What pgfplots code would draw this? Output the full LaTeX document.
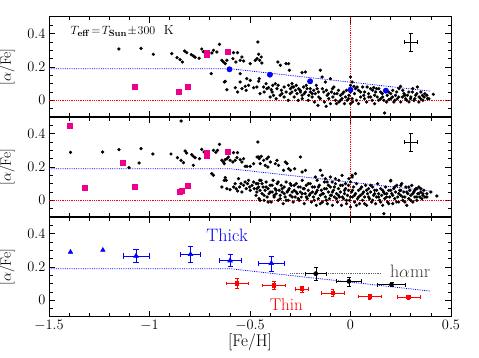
\documentclass[border=0pt]{standalone}
\usepackage{pgfplots}
\pgfplotsset{compat=1.18}
\begin{document}
\begin{tikzpicture}
\pgfplotsset{
  panel/.style={
    scale only axis, width=402pt, height=100pt,
    xmin=-1.5, xmax=0.5, ymin=-0.1, ymax=0.5,
    xtick={-1.5,-1,-0.5,0,0.5},
    minor xtick={-1.4,-1.3,-1.2,-1.1,-0.9,-0.8,-0.7,-0.6,-0.4,-0.3,-0.2,-0.1,0.1,0.2,0.3,0.4},
    ytick={0,0.2,0.4},
    minor ytick={-0.05,0.05,0.1,0.15,0.25,0.3,0.35,0.45},
    major tick length=6pt, minor tick length=3.5pt,
    tick style={black, line width=0.8pt},
    axis line style={line width=1pt},
    tick label style={font=\fontsize{14}{16}\selectfont},
    ylabel={[$\alpha$/Fe]},
    ylabel style={font=\fontsize{15}{17}\selectfont, at={(axis description cs:-0.104,0.5)}, anchor=center},
  },
  dots/.style={only marks, mark=*, mark size=1.45pt, black},
  sq/.style={only marks, mark=square*, mark size=2.5pt, magenta},
  redline/.style={red, densely dotted, line width=0.8pt},
  fitline/.style={blue, densely dotted, line width=0.8pt},
  cross/.style={black, no markers, line width=0.7pt, error bars/.cd, x dir=both, x explicit, y dir=both, y explicit},
}
% ---------------- top panel
\begin{axis}[panel, at={(0,200pt)}, xticklabels={}]
\addplot[redline] coordinates {(-1.5,0) (0.5,0)};
\addplot[redline] coordinates {(0,-0.1) (0,0.5)};
\addplot[fitline] coordinates {(-1.5,0.19) (-0.6,0.19) (0.4,0.055)};
\addplot[dots] coordinates {
(-1.152,0.308) (-1.042,0.312) (-0.981,0.276) (-0.889,0.280) (-0.863,0.256) (-0.848,0.244)
(-0.836,0.230) (-0.825,0.296) (-0.815,0.286) (-0.792,0.274) (-0.782,0.266) (-0.773,0.258)
(-0.753,0.252) (-0.740,0.308) (-0.732,0.292) (-0.718,0.284) (-0.690,0.284) (-0.682,0.300)
(-0.665,0.290) (-0.652,0.336) (-0.693,0.160) (-0.640,0.240) (-0.632,0.230) (-0.623,0.220)
(-0.615,0.240) (-0.582,0.286) (-0.562,0.286) (-0.585,0.250) (-0.570,0.230) (-0.549,0.240)
(-0.532,0.236) (-0.540,0.260) (-0.623,0.114) (-0.615,0.064) (-0.628,0.110) (-0.573,0.076)
(-0.562,0.050) (-0.549,0.110) (-0.540,0.070) (-0.524,0.084) (-0.519,0.060) (-0.507,0.090)
(-0.499,0.120) (-0.482,0.076) (-0.466,0.080) (-0.457,0.114) (-0.452,0.240) (-0.461,0.350)
(-0.474,0.240) (-0.549,0.160) (-0.516,0.130) (-0.499,0.220) (-0.457,0.276) (-0.444,0.260)
(-0.465,0.250) (-0.441,0.224) (-0.454,0.130) (-0.432,0.080) (-0.416,0.070) (-0.408,0.076)
(-0.394,0.064) (-0.387,0.090) (-0.383,0.030) (-0.374,0.100) (-0.366,0.070) (-0.361,0.230)
(-0.349,0.210) (-0.344,0.060) (-0.341,0.040) (-0.321,0.220) (-0.308,0.220) (-0.304,0.180)
(-0.308,0.090) (-0.299,0.070) (-0.291,0.050) (-0.291,0.100) (-0.283,0.080) (-0.274,0.060)
(-0.266,0.040) (-0.258,0.070) (-0.249,0.050) (-0.241,0.166) (-0.241,0.030) (-0.233,0.080)
(-0.224,0.170) (-0.224,0.050) (-0.216,0.070) (-0.208,0.030) (-0.200,0.050) (-0.191,0.020)
(-0.183,0.060) (-0.175,0.040) (-0.166,0.070) (-0.162,-0.030) (-0.158,0.020) (-0.150,0.180)
(-0.141,0.140) (-0.133,0.050) (-0.125,0.110) (-0.121,-0.036) (-0.116,0.030) (-0.108,0.010)
(-0.100,0.130) (-0.095,0.050) (-0.088,0.020) (-0.083,0.080) (-0.075,0.000) (-0.067,0.040)
(-0.058,-0.010) (-0.050,0.030) (-0.042,0.010) (-0.033,0.050) (-0.025,0.020) (-0.017,0.000)
(-0.008,0.030) (0.000,0.140) (0.000,-0.020) (0.008,0.010)
(0.008,0.110) (0.017,0.084) (0.025,0.070) (0.033,0.080) (0.050,0.050) (0.066,0.030)
(0.083,0.080) (0.091,0.020) (0.100,0.070) (0.108,0.000) (0.116,0.076) (0.125,0.050)
(0.133,0.020) (0.141,0.070) (0.150,0.010) (0.158,0.040) (0.166,0.000) (0.170,-0.076)
(0.183,0.030) (0.191,0.004) (0.200,0.040) (0.208,0.020) (0.216,-0.010) (0.224,0.030)
(0.233,0.010) (0.241,0.070) (0.249,0.084) (0.258,0.020) (0.266,0.040) (0.274,0.010)
(0.283,0.030) (0.291,-0.010) (0.299,0.010) (0.308,0.050) (0.316,0.000) (0.324,0.030)
(0.333,0.080) (0.341,0.020) (0.349,0.010) (0.358,0.030) (0.366,0.020) (0.383,0.010)
(0.412,0.036)
(-0.45,0.04) (-0.43,0.05) (-0.42,0.10) (-0.40,0.02) (-0.39,0.05) (-0.37,0.01) (-0.36,0.09)
(-0.35,0.03) (-0.33,0.08) (-0.33,0.02) (-0.32,0.05) (-0.31,0.00) (-0.30,0.04) (-0.29,0.08)
(-0.28,0.02) (-0.27,0.09) (-0.26,0.00) (-0.25,0.06) (-0.24,0.01) (-0.23,0.04) (-0.22,0.09)
(-0.21,0.00) (-0.20,0.07) (-0.19,0.04) (-0.18,-0.01) (-0.17,0.09) (-0.16,0.05) (-0.15,0.01)
(-0.14,0.07) (-0.13,-0.01) (-0.12,0.06) (-0.11,0.04) (-0.10,-0.02) (-0.09,0.07) (-0.08,0.04)
(-0.07,-0.02) (-0.06,0.06) (-0.05,0.00) (-0.04,0.04) (-0.03,-0.02) (-0.02,0.06) (-0.01,0.01)
(0.00,0.05) (0.00,0.09) (0.01,-0.01) (0.02,0.04) (0.03,0.00) (0.04,0.06) (0.04,-0.02)
(0.05,0.02) (0.06,0.08) (0.07,0.01) (0.07,0.05) (0.08,-0.01) (0.09,0.04) (0.10,0.02)
(0.11,0.06) (0.12,-0.02) (0.12,0.03) (0.13,0.07) (0.14,0.00) (0.15,0.05) (0.16,0.02)
(0.17,0.06) (0.18,-0.01) (0.19,0.05) (0.20,0.01) (0.21,0.06) (0.22,0.00) (0.23,0.05)
(0.24,0.02) (0.25,-0.01) (0.26,0.06) (0.27,0.03) (0.28,0.00) (0.29,0.05) (0.30,0.02)
(0.31,0.07) (0.32,0.01) (0.33,0.04) (0.34,-0.01) (0.35,0.05) (0.36,0.00) (0.37,0.04)
(0.38,0.03) (0.39,0.01)
};
\addplot[sq] coordinates {(-1.072,0.080) (-0.853,0.050) (-0.811,0.084) (-0.713,0.288) (-0.713,0.272) (-0.610,0.292)};
\addplot[only marks, mark=*, mark size=2.7pt, blue] coordinates {(-0.602,0.186) (-0.401,0.154) (-0.201,0.114) (0.0,0.064) (0.176,0.058)};
\addplot[cross] coordinates {(0.299,0.35) +- (0.031,0.055)};
\node[anchor=west, font=\fontsize{13}{15}\selectfont] at (axis cs:-1.41,0.415)
  {$T_{\mathbf{eff}}\!=\!T_{\mathbf{Sun}}\!\pm\!300$~~K};
\end{axis}
% ---------------- middle panel
\begin{axis}[panel, at={(0,100pt)}, xticklabels={}]
\addplot[redline] coordinates {(-1.5,0) (0.5,0)};
\addplot[redline] coordinates {(0,-0.1) (0,0.5)};
\addplot[fitline] coordinates {(-1.5,0.19) (-0.6,0.19) (0.4,0.055)};
\addplot[dots] coordinates {
(-1.393,0.288) (-1.233,0.290) (-1.152,0.304) (-1.102,0.196) (-1.052,0.224) (-1.042,0.310)
(-0.983,0.278) (-0.893,0.278) (-0.843,0.476)
(-0.861,0.256) (-0.843,0.240) (-0.831,0.226) (-0.823,0.296) (-0.815,0.284) (-0.790,0.274)
(-0.782,0.264) (-0.773,0.256) (-0.751,0.250) (-0.782,0.210) (-0.740,0.306) (-0.728,0.290)
(-0.715,0.280) (-0.690,0.160) (-0.682,0.150) (-0.682,0.300) (-0.670,0.288) (-0.662,0.300)
(-0.652,0.336) (-0.640,0.240) (-0.632,0.230) (-0.623,0.244) (-0.615,0.250) (-0.607,0.260)
(-0.628,0.220) (-0.599,0.240) (-0.582,0.286) (-0.562,0.286) (-0.585,0.230) (-0.574,0.240)
(-0.565,0.256) (-0.549,0.244) (-0.540,0.230) (-0.532,0.250) (-0.524,0.204) (-0.515,0.204)
(-0.499,0.204) (-0.482,0.220) (-0.461,0.350) (-0.457,0.260)
(-0.640,0.080) (-0.628,0.120) (-0.618,0.120) (-0.615,0.070) (-0.623,0.136) (-0.599,0.064)
(-0.582,0.080) (-0.574,0.100) (-0.569,0.070) (-0.562,0.056) (-0.557,0.130) (-0.552,0.080)
(-0.545,0.100) (-0.540,0.050) (-0.532,0.090) (-0.524,0.110) (-0.519,0.070) (-0.512,0.100)
(-0.507,0.120) (-0.502,0.080) (-0.499,0.060) (-0.490,0.090) (-0.482,0.110) (-0.479,0.070)
(-0.469,0.100) (-0.466,0.050) (-0.457,0.080) (-0.452,0.120)
(-0.465,0.260) (-0.454,0.250) (-0.444,0.264) (-0.432,0.240) (-0.416,0.250) (-0.408,0.260)
(-0.449,0.220) (-0.424,0.210) (-0.399,0.230) (-0.411,0.200) (-0.374,0.220) (-0.366,0.240)
(-0.358,0.210) (-0.324,0.230) (-0.316,0.220) (-0.308,0.190) (-0.299,0.180) (-0.333,0.180)
(-0.278,0.190) (-0.249,0.260) (-0.241,0.170) (-0.224,0.180) (-0.175,0.140) (-0.166,0.120)
(-0.150,0.180) (-0.141,0.150) (-0.125,0.130) (-0.116,0.110) (-0.100,0.140) (-0.091,0.110)
(-0.075,0.130) (-0.058,0.120) (-0.042,0.150) (-0.025,0.100) (-0.008,0.130) (0.008,0.150)
(0.025,0.160) (0.008,0.140) (0.200,0.116) (0.250,0.090) (0.330,0.070)
(-0.47,0.03) (-0.46,0.10) (-0.455,0.01) (-0.45,0.06) (-0.445,0.12) (-0.44,0.04) (-0.435,0.08)
(-0.43,0.00) (-0.425,0.06) (-0.42,0.11) (-0.415,0.02) (-0.41,0.07) (-0.405,0.04) (-0.40,0.09)
(-0.395,-0.01) (-0.39,0.05) (-0.385,0.12) (-0.38,0.02) (-0.375,0.07) (-0.37,0.04) (-0.365,0.10)
(-0.36,0.00) (-0.355,0.06) (-0.35,0.03) (-0.345,0.09) (-0.34,0.05) (-0.335,-0.02) (-0.33,0.08)
(-0.325,0.02) (-0.32,0.11) (-0.315,0.05) (-0.31,0.00) (-0.305,0.07) (-0.30,0.03) (-0.295,0.09)
(-0.29,0.05) (-0.285,-0.01) (-0.28,0.06) (-0.275,0.02) (-0.27,0.10) (-0.265,0.04) (-0.26,0.08)
(-0.255,0.00) (-0.25,0.05) (-0.245,0.02) (-0.24,0.12) (-0.235,0.07) (-0.23,-0.02) (-0.225,0.04)
(-0.22,0.09) (-0.215,0.01) (-0.21,0.06) (-0.205,0.03) (-0.20,0.10) (-0.195,-0.01) (-0.19,0.05)
(-0.185,0.02) (-0.18,0.08) (-0.175,0.04) (-0.17,-0.03) (-0.165,0.06) (-0.16,0.01) (-0.155,0.09)
(-0.15,0.03) (-0.145,0.06) (-0.14,-0.01) (-0.135,0.04) (-0.13,0.11) (-0.125,0.02) (-0.12,0.07)
(-0.115,-0.02) (-0.11,0.05) (-0.105,0.01) (-0.10,0.08) (-0.095,0.03) (-0.09,-0.03) (-0.085,0.06)
(-0.08,0.02) (-0.075,0.10) (-0.07,0.04) (-0.065,-0.01) (-0.06,0.07) (-0.055,0.02) (-0.05,0.05)
(-0.045,-0.03) (-0.04,0.09) (-0.035,0.01) (-0.03,0.04) (-0.025,0.07) (-0.02,-0.02) (-0.015,0.03)
(-0.01,0.06) (-0.005,0.00) (0.00,0.11) (0.00,-0.04) (0.005,0.05) (0.01,0.02) (0.015,0.08)
(0.02,-0.01) (0.025,0.04) (0.03,0.10) (0.035,0.01) (0.04,0.06) (0.045,-0.02) (0.05,0.03)
(0.055,0.08) (0.06,0.00) (0.065,0.05) (0.07,0.02) (0.075,0.09) (0.08,-0.03) (0.085,0.04)
(0.09,0.07) (0.095,0.01) (0.10,0.05) (0.105,-0.01) (0.11,0.08) (0.115,0.03) (0.12,0.06)
(0.125,-0.02) (0.13,0.02) (0.135,0.10) (0.14,0.04) (0.145,0.00) (0.15,0.07) (0.155,0.03)
(0.16,-0.03) (0.165,0.05) (0.166,-0.08) (0.17,0.01) (0.175,0.08) (0.18,0.04) (0.185,-0.01)
(0.19,0.06) (0.195,0.02) (0.20,0.12) (0.205,0.04) (0.21,-0.02) (0.215,0.07) (0.22,0.01)
(0.225,0.05) (0.23,0.09) (0.235,0.02) (0.24,-0.01) (0.245,0.06) (0.25,0.03) (0.255,0.10)
(0.26,0.00) (0.265,0.05) (0.27,0.02) (0.275,0.08) (0.28,-0.03) (0.285,0.04) (0.29,0.01)
(0.295,0.06) (0.30,0.03) (0.305,0.09) (0.31,-0.01) (0.315,0.05) (0.32,0.02) (0.325,0.07)
(0.33,0.00) (0.335,0.04) (0.34,0.08) (0.345,0.02) (0.35,0.05) (0.355,0.01) (0.36,0.03)
(0.365,0.06) (0.37,0.02) (0.38,0.04) (0.40,0.05) (0.43,0.026)
(-0.465,0.07) (-0.45,0.00) (-0.44,0.10) (-0.43,0.03) (-0.42,0.08) (-0.41,-0.01) (-0.40,0.05)
(-0.39,0.09) (-0.38,0.03) (-0.37,0.06) (-0.36,0.11) (-0.35,0.01) (-0.34,0.07) (-0.33,0.04)
(-0.32,0.00) (-0.31,0.06) (-0.30,0.10) (-0.29,0.02) (-0.28,0.09) (-0.27,0.05) (-0.26,0.01)
(-0.25,0.08) (-0.24,0.04) (-0.23,0.07) (-0.22,0.02) (-0.21,0.10) (-0.20,0.04) (-0.19,0.08)
(-0.18,0.00) (-0.17,0.05) (-0.16,0.08) (-0.15,-0.02) (-0.14,0.04) (-0.13,0.07) (-0.12,0.00)
(-0.11,0.09) (-0.10,0.03) (-0.09,0.05) (-0.08,0.08) (-0.07,0.01) (-0.06,0.03) (-0.05,0.09)
(-0.04,0.02) (-0.03,0.06) (-0.02,0.00) (-0.01,0.09) (0.00,0.02) (0.01,0.06) (0.02,0.03)
(0.03,-0.03) (0.04,0.02) (0.05,0.07) (0.06,0.04) (0.07,-0.02) (0.08,0.06) (0.09,0.02)
(0.10,0.09) (0.11,0.00) (0.12,0.04) (0.13,0.06) (0.14,0.02) (0.15,-0.01) (0.16,0.06)
(0.17,0.04) (0.18,0.02) (0.19,-0.02) (0.20,0.06) (0.21,0.03) (0.22,0.08) (0.23,-0.01)
(0.24,0.04) (0.25,0.06) (0.26,0.02) (0.27,-0.01) (0.28,0.05) (0.29,0.08) (0.30,0.00)
(0.31,0.04) (0.32,0.06) (0.33,0.02) (0.34,0.04) (0.35,0.07) (0.36,0.04) (0.38,0.02)
};
\addplot[sq] coordinates {(-1.395,0.448) (-1.323,0.074) (-1.134,0.228) (-1.074,0.084) (-0.851,0.054) (-0.839,0.060) (-0.811,0.088) (-0.713,0.288) (-0.713,0.270) (-0.610,0.290)};
\addplot[cross] coordinates {(0.299,0.35) +- (0.031,0.055)};
\end{axis}
% ---------------- bottom panel
\begin{axis}[panel, at={(0,0pt)},
  xlabel={[Fe/H]},
  xlabel style={font=\fontsize{17}{19}\selectfont, at={(axis description cs:0.5,-0.25)}, anchor=center}]
\addplot[fitline] coordinates {(-1.5,0.19) (-0.6,0.19) (0.4,0.055)};
\addplot[black!60, densely dotted, line width=0.8pt] coordinates {(-0.30,0.162) (0.15,0.162)};
\addplot[only marks, mark=triangle*, mark size=2.6pt, blue] coordinates {(-1.393,0.290) (-1.232,0.302)};
\addplot[blue, only marks, mark=triangle*, mark size=2.6pt, line width=0.7pt,
  error bars/.cd, x dir=both, x explicit, y dir=both, y explicit]
  coordinates {(-1.067,0.266) +- (0.064,0.040) (-0.796,0.276) +- (0.050,0.048)
               (-0.599,0.238) +- (0.055,0.036) (-0.394,0.222) +- (0.065,0.045)};
\addplot[black, only marks, mark=*, mark size=2pt, line width=0.7pt,
  error bars/.cd, x dir=both, x explicit, y dir=both, y explicit]
  coordinates {(-0.173,0.160) +- (0.052,0.040) (-0.008,0.114) +- (0.062,0.027)
               (0.204,0.094) +- (0.069,0.012)};
\addplot[red, only marks, mark=square*, mark size=1.6pt, line width=0.7pt,
  error bars/.cd, x dir=both, x explicit, y dir=both, y explicit]
  coordinates {(-0.565,0.102) +- (0.055,0.030) (-0.381,0.090) +- (0.056,0.022)
               (-0.241,0.068) +- (0.033,0.018) (-0.088,0.044) +- (0.056,0.020)
               (0.096,0.024) +- (0.058,0.015) (0.288,0.020) +- (0.058,0.012)};
\node[blue, font=\fontsize{18}{20}\selectfont] at (axis cs:-0.614,0.392) {Thick};
\node[red, font=\fontsize{17}{19}\selectfont] at (axis cs:-0.319,-0.028) {Thin};
\node[black!75, font=\fontsize{18}{20}\selectfont] at (axis cs:0.297,0.172) {h$\alpha$mr};
\end{axis}
\pgfresetboundingbox
\path[use as bounding box] (-49pt,-41pt) rectangle (430pt,317pt);
\end{tikzpicture}
\end{document}
